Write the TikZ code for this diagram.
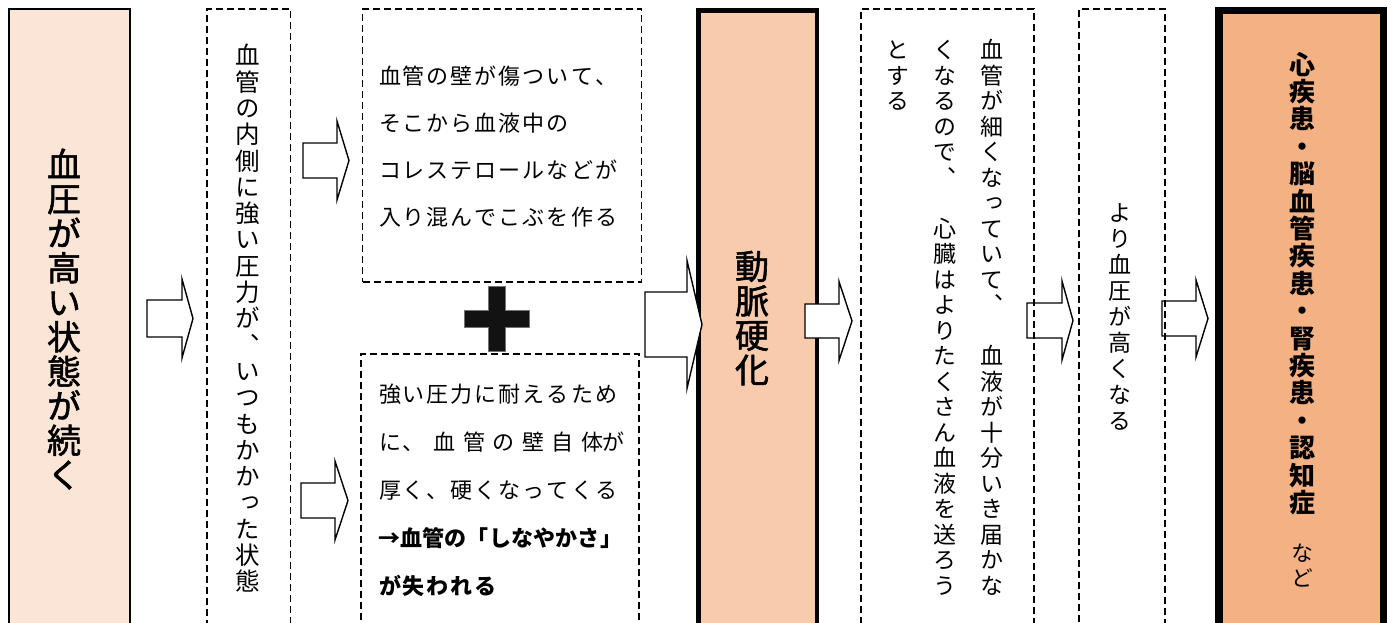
\documentclass[tikz,border=0pt]{standalone}
\usepackage{fontspec}
\setmainfont{Noto Sans CJK JP}
\newfontfamily\jp{Noto Sans CJK JP}
\newfontfamily\jpv{Noto Sans CJK JP}[RawFeature=+vert]
\newfontfamily\jpvm{Noto Sans CJK JP}[RawFeature=+vert, FakeBold=1.6]
\definecolor{peachA}{HTML}{FBE5D6}
\definecolor{peachC}{HTML}{F8CBAD}
\definecolor{peachE}{HTML}{F4B183}
\def\chEnd{\chEnd}
% horizontal run of characters with a fixed pitch
\newcommand\hch[2]{\hbox{\def\chw{#1}\hchA#2\chEnd}}
\def\hchA#1{\ifx#1\chEnd\else\hbox to\chw{\hss#1\hss}\expandafter\hchA\fi}
% vertical stack of characters with a fixed pitch
\newcommand\vch[2]{\vbox{\offinterlineskip\def\chw{#1}\vchA#2\chEnd}}
\def\vchA#1{\ifx#1\chEnd\else\hbox to 1.1em{\hss\vbox to\chw{\vss\hbox{\vrule height .88em depth .12em width 0pt #1}\vss}\hss}\expandafter\vchA\fi}
\tikzset{
  txt/.style={inner sep=0pt, outer sep=0pt},
  boxbase/.style={rectangle, anchor=north west, inner sep=0pt, outer sep=0pt},
  solidbox/.style={boxbase, draw=black, line width=#1},
  dbox/.style={boxbase, draw=black, dash pattern=on 7pt off 4pt, line width=1.2pt},
  barrow/.style={draw=black, fill=white, line width=1.4pt, line join=miter},
  plusbar/.style={fill=black!93, draw=black!55, line width=0.6pt},
}
\newcommand\barr[6]{%
  \draw[barrow] ({#1},{#4-#5}) -- ({#2},{#4-#5}) -- ({#2},{#4-#6}) -- ({#3},{#4})
    -- ({#2},{#4+#6}) -- ({#2},{#4+#5}) -- ({#1},{#4+#5}) -- cycle;}
\begin{document}
\begin{tikzpicture}[x=1pt,y=-1pt]
\useasboundingbox (0,0) rectangle (1391,623);
\fill[white] (0,0) rectangle (1391,623);
% filled boxes
\node[solidbox=1.6pt, fill=peachA, minimum width=121pt, minimum height=641pt] (A) at (9,9) {};
\node[solidbox=4.5pt, fill=peachC, minimum width=118.5pt, minimum height=640pt] (C) at (698.5,10.5) {};
\node[solidbox=7.2pt, fill=peachE, minimum width=164.5pt, minimum height=640pt] (E) at (1219,10.7) {};
% block arrows
\barr{147}{182}{193}{318.5}{18.5}{39.5}
\barr{303}{337}{349}{160.5}{17.5}{39.5}
\barr{301}{335}{348}{500.5}{17.5}{39.5}
\barr{645}{687}{702}{324.5}{32.5}{64}
\barr{805}{839}{852}{321}{17}{39.5}
\barr{1027}{1062}{1073}{320.5}{17.5}{39.5}
\barr{1162}{1196}{1208}{318.5}{17.5}{38.5}
% dashed boxes
\node[dbox, minimum width=83.5pt, minimum height=641pt] (B) at (207,9) {};
\node[dbox, minimum width=279pt, minimum height=273pt] (G1) at (362.5,9) {};
\node[dbox, minimum width=278pt, minimum height=296pt] (G2) at (361,354) {};
\node[dbox, minimum width=173pt, minimum height=641pt] (D) at (861,9) {};
\node[dbox, minimum width=86pt, minimum height=641pt] (F) at (1079,9) {};
% plus sign
\draw[plusbar] (464,310) -- (488,310) -- (488,286) -- (505,286) -- (505,310) -- (529,310) -- (529,327) -- (505,327) -- (505,351) -- (488,351) -- (488,327) -- (464,327) -- cycle;
% texts
\node[txt, font=\jpvm\fontsize{34}{34}\selectfont] (tA) at (64,319.5) {\vch{34.5pt}{血圧が高い状態が続く}};
\node[txt, font=\jpv\fontsize{24.5}{24.5}\selectfont] (tB) at (248,318.5) {\vch{26.3pt}{血管の内側に強い圧力が、いつもかかった状態}};
\node[txt, anchor=base west, font=\jp\fontsize{22}{22}\selectfont] (tG1) at (378,84.5)
  {\vtop{\baselineskip=47pt
   \hch{24pt}{血管の壁が傷ついて、}
   \hch{24pt}{そこから血液中の}
   \hch{24pt}{コレステロールなどが}
   \hch{24pt}{入り混んでこぶを作る}}};
\node[txt, anchor=base west, font=\jp\fontsize{22}{22}\selectfont] (tG2) at (378,402.5)
  {\vtop{\baselineskip=48pt
   \hch{24pt}{強い圧力に耐えるため}
   \hbox{\hch{24pt}{に、}\hskip4pt\hch{29.5pt}{血管の壁自体}\hskip-6pt\hch{24pt}{が}}
   \hch{24pt}{厚く、硬くなってくる}
   {\bfseries\hch{22.2pt}{→血管の「しなやかさ」}}
   {\bfseries\hch{24pt}{が失われる}}}};
\node[txt, font=\jpvm\fontsize{34}{34}\selectfont] (tC) at (752,318) {\vch{34.5pt}{動脈硬化}};
\node[txt, anchor=north, font=\jpv\fontsize{23}{23}\selectfont] (tD1) at (992,37.5) {\vch{25.5pt}{血管が細くなっていて、　血液が十分いき届かな}};
\node[txt, anchor=north, font=\jpv\fontsize{23}{23}\selectfont] (tD2) at (945,37.5) {\vch{25.5pt}{くなるので、　心臓はよりたくさん血液を送ろう}};
\node[txt, anchor=north, font=\jpv\fontsize{23}{23}\selectfont] (tD3) at (898,37.5) {\vch{25.5pt}{とする}};
\node[txt, font=\jpv\fontsize{23}{23}\selectfont] (tF) at (1120,317) {\vch{26pt}{より血圧が高くなる}};
\node[txt, anchor=north, font=\jpv\bfseries\fontsize{26}{26}\selectfont] (tE) at (1302,50.5) {\vch{27.4pt}{心疾患・脳血管疾患・腎疾患・認知症}};
\node[txt, anchor=north, font=\jpv\fontsize{22}{22}\selectfont] (tE2) at (1302,540.5) {\vch{25pt}{など}};
\end{tikzpicture}
\end{document}
